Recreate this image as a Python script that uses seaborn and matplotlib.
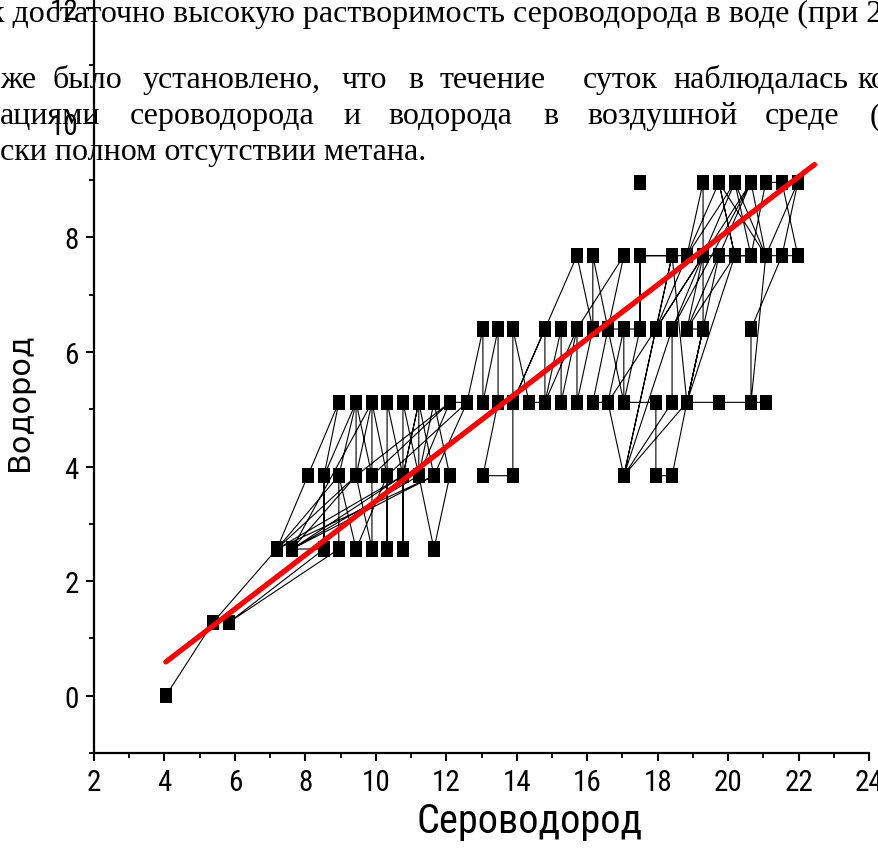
import numpy as np
import pandas as pd
import matplotlib
matplotlib.use("Agg")
import matplotlib.pyplot as plt
import seaborn as sns
from matplotlib import font_manager as fm
from matplotlib.path import Path
from matplotlib.ticker import MultipleLocator

sns.set_theme(style="ticks")

# pick a narrow sans for the axis text when one is installed
names = {f.name for f in fm.fontManager.ttflist}
narrow_family, narrow_stretch = None, "normal"
for cand in ["Liberation Sans Narrow", "Arial Narrow", "Noto Sans Condensed",
             "DejaVu Sans Condensed", "Roboto Condensed", "Open Sans Condensed"]:
    if cand in names:
        narrow_family = cand
        break
if narrow_family is None:
    for f in fm.fontManager.ttflist:
        if f.name in ("Noto Sans", "DejaVu Sans", "Roboto", "Open Sans") \
                and f.stretch in ("condensed", "semi-condensed") \
                and f.style == "normal" and f.weight in (400, "normal", "regular"):
            narrow_family, narrow_stretch = f.name, f.stretch
            break
if narrow_family is None:
    narrow_family = "Liberation Sans"

plt.rcParams["font.family"] = [narrow_family, "Liberation Sans", "DejaVu Sans"]
plt.rcParams["font.stretch"] = narrow_stretch
for key in ("text.color", "axes.labelcolor", "xtick.color", "ytick.color",
            "axes.edgecolor"):
    plt.rcParams[key] = "black"
is_narrow = narrow_family != "Liberation Sans"

# Hydrogen sulfide (x) and hydrogen (y) readings, in the order they were recorded
h2s = [
    4.04, 5.38, 7.19, 8.07, 8.95, 8.53, 8.53, 7.62, 9.44, 9.89,
    9.89, 9.44, 8.95, 9.44, 10.32, 10.32, 10.32, 10.77, 10.77, 10.77,
    11.22, 11.65, 12.10, 11.65, 11.22, 11.22, 10.77, 7.19, 8.95, 8.95,
    5.83, 8.53, 8.53, 9.44, 9.44, 12.10, 9.89, 9.89, 10.32, 12.59,
    11.65, 7.62, 10.77, 11.22, 11.65, 7.19, 9.44, 9.89, 7.62, 11.22,
    12.10, 12.59, 13.04, 13.04, 13.47, 13.47,
    13.04, 13.89, 13.89, 13.89, 14.35, 14.80, 15.26, 15.26, 15.71, 15.71,
    16.16, 16.16, 16.59, 16.16, 16.59, 17.04, 17.04, 17.95, 17.95, 18.41,
    18.83, 19.29, 19.29, 19.29, 18.83, 17.95, 16.59, 17.04, 18.41, 18.41,
    17.04, 18.41, 17.50, 17.50, 16.16, 15.71, 14.80, 13.89, 14.80, 14.80,
    15.71, 17.04, 16.59, 17.04, 17.50, 17.50, 18.41, 17.95, 17.04, 18.83,
    19.29, 18.83, 19.29, 18.41, 20.65, 21.07, 21.98, 21.53, 20.65, 20.65,
    21.07, 19.74, 20.19, 19.74, 18.83, 20.19, 19.29, 17.95, 20.65, 18.83,
    20.19, 18.83, 19.74, 20.65, 21.07, 21.53, 21.98, 21.07, 20.19, 20.65,
    19.74, 18.41, 18.83, 19.74, 20.65, 21.07,
]
h2 = [
    0.00, 1.28, 2.56, 3.84, 5.12, 3.84, 2.56, 2.56, 3.84, 2.56,
    3.84, 5.12, 3.84, 2.56, 3.84, 2.56, 5.12, 3.84, 2.56, 5.12,
    3.84, 5.12, 3.84, 2.56, 3.84, 5.12, 3.84, 2.56, 3.84, 2.56,
    1.28, 2.56, 3.84, 5.12, 3.84, 5.12, 3.84, 5.12, 3.84, 5.12,
    3.84, 2.56, 3.84, 5.12, 3.84, 2.56, 3.84, 5.12, 2.56, 3.84,
    5.12, 5.12, 6.40, 5.12, 6.40, 5.12,
    3.84, 3.84, 5.12, 6.40, 5.12, 5.12, 6.40, 5.12, 6.40, 5.12,
    6.40, 7.68, 6.40, 5.12, 5.12, 6.40, 5.12, 5.12, 3.84, 3.84,
    5.12, 6.40, 7.68, 8.96, 7.68, 6.40, 5.12, 3.84, 5.12, 6.40,
    3.84, 7.68, 7.68, 6.40, 6.40, 7.68, 6.40, 5.12, 6.40, 5.12,
    6.40, 7.68, 6.40, 5.12, 6.40, 7.68, 7.68, 6.40, 3.84, 5.12,
    6.40, 6.40, 7.68, 6.40, 8.96, 7.68, 8.96, 7.68, 6.40, 5.12,
    7.68, 8.96, 7.68, 8.96, 7.68, 8.96, 7.68, 6.40, 8.96, 6.40,
    7.68, 5.12, 7.68, 7.68, 8.96, 8.96, 7.68, 7.68, 8.96, 7.68,
    7.68, 7.68, 5.12, 5.12, 5.12, 5.12,
]
# a reading with no neighbour in the series
lone_h2s = [17.50]
lone_h2 = [8.96]

# linear fit drawn over the readings
fit_slope = 0.4715
fit_intercept = -1.315
fit_h2s = [4.04, 22.45]

x_ticks = [2, 4, 6, 8, 10, 12, 14, 16, 18, 20, 22, 24]
y_ticks = [0, 2, 4, 6, 8, 10, 12]

series = pd.DataFrame({"h2s": h2s, "h2": h2})
lone = pd.DataFrame({"h2s": lone_h2s, "h2": lone_h2})
points = pd.concat([series, lone], ignore_index=True)
fit = pd.DataFrame({"h2s": fit_h2s,
                    "h2": [fit_slope * v + fit_intercept for v in fit_h2s]})

W, H = 879, 862
fig = plt.figure(figsize=(W / 100, H / 100), dpi=100)
ax = fig.add_axes([94 / W, 108 / H, (869 - 94) / W, 754 / H])
ax.set_facecolor("none")

# page text behind the chart
serif = ["Liberation Serif", "DejaVu Serif"]
fs_doc = 23
def doc_line(words, baseline):
    for x0, w in words:
        fig.text(x0 / W, 1 - baseline / H, w, family=serif, fontsize=fs_doc,
                 fontstretch="normal", va="baseline", ha="left", color="black")

doc_line([(-11, "к достаточно высокую растворимость сероводорода в воде (при 20")], 22)
doc_line([(0, "же"), (53, "было"), (143, "установлено,"), (342, "что"),
          (408, "в"), (440, "течение"), (583, "суток"), (673, "наблюдалась"),
          (857, "ко")], 88)
doc_line([(0, "ациями"), (130, "сероводорода"), (343, "и"), (388, "водорода"),
          (543, "в"), (587, "воздушной"), (765, "среде"), (870, "(")], 124)
doc_line([(0, "ски полном отсутствии метана.")], 160)

sns.lineplot(data=series, x="h2s", y="h2", sort=False, estimator=None,
             color="black", linewidth=0.8, ax=ax, legend=False)

rect = Path([(-0.8, -1), (0.8, -1), (0.8, 1), (-0.8, 1), (-0.8, -1)],
            [Path.MOVETO, Path.LINETO, Path.LINETO, Path.LINETO, Path.CLOSEPOLY])
sns.scatterplot(data=points, x="h2s", y="h2", marker=rect, s=120,
                color="black", edgecolor="none", linewidth=0, ax=ax,
                legend=False, zorder=3)

sns.lineplot(data=fit, x="h2s", y="h2", color="#ff0000", linewidth=3.8,
             ax=ax, legend=False, zorder=4)

ax.set_xlim(2, 24)
ax.set_ylim(-1, 12.16)
ax.set_xticks(x_ticks)
ax.set_yticks(y_ticks)
ax.xaxis.set_minor_locator(MultipleLocator(1))
ax.yaxis.set_minor_locator(MultipleLocator(1))
for s in ("top", "right"):
    ax.spines[s].set_visible(False)
for s in ("left", "bottom"):
    ax.spines[s].set_linewidth(1.6)
    ax.spines[s].set_color("black")
tick_fs = 21 if is_narrow else 18.5
ax.tick_params(which="major", direction="out", length=6, width=1.5,
               labelsize=tick_fs, color="black", labelcolor="black", pad=5)
ax.tick_params(which="minor", direction="out", length=3.5, width=1.3, color="black")
ax.set_xlabel("Сероводород", fontsize=29 if is_narrow else 26, color="black")
ax.set_ylabel("Водород", fontsize=22, family=["DejaVu Sans"],
              fontstretch="normal", color="black")
ax.xaxis.set_label_coords(0.5626, -0.064)
ax.yaxis.set_label_coords(-0.078, 0.467)

fig.savefig("out.png", dpi=100)
